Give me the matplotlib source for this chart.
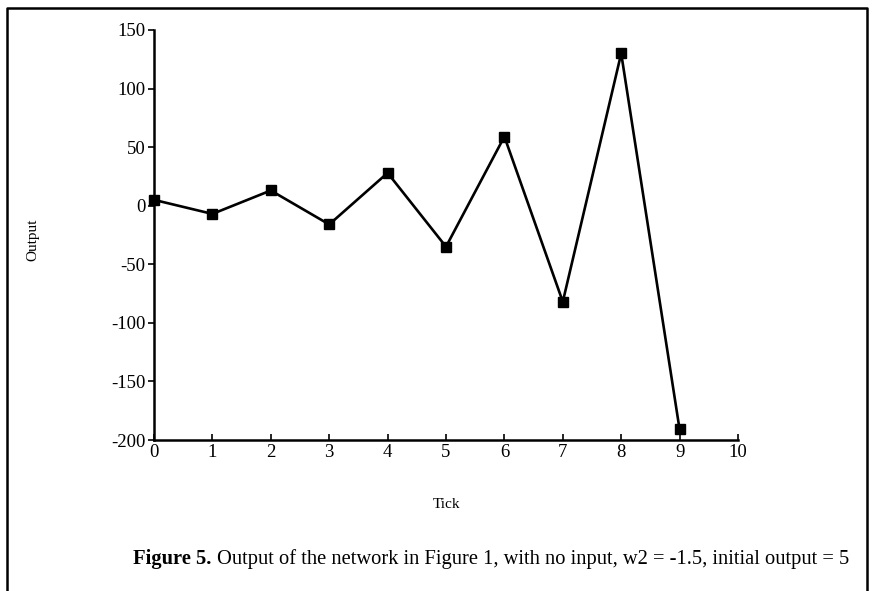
import matplotlib
matplotlib.use("Agg")
import matplotlib.pyplot as plt
from matplotlib.lines import Line2D

ticks = [0, 1, 2, 3, 4, 5, 6, 7, 8, 9]
output = [5, -7, 13, -16, 28, -35, 59, -82, 130, -191]
xticks = [0, 1, 2, 3, 4, 5, 6, 7, 8, 9, 10]
yticks = [-200, -150, -100, -50, 0, 50, 100, 150]

plt.rcParams['font.family'] = ['Liberation Serif', 'DejaVu Serif']
plt.rcParams['axes.unicode_minus'] = False

W, H = 872, 591
fig = plt.figure(figsize=(W / 100, H / 100), dpi=100)
fig.patch.set_facecolor('white')

ax = fig.add_axes([154 / W, 1 - 440 / H, (738 - 154) / W, (440 - 30) / H])
ax.plot(ticks, output, color='black', lw=1.9, marker='s', markersize=7.5,
        markerfacecolor='black', markeredgecolor='black', clip_on=False)
ax.set_xlim(0, 10)
ax.set_ylim(-200, 150)
ax.set_xticks(xticks)
ax.set_yticks(yticks)
ax.tick_params(axis='y', direction='out', length=4, width=1.2, labelsize=13.5, pad=2)
ax.tick_params(axis='x', direction='in', length=4, width=1.2, labelsize=13.5, pad=3)
for s in ['top', 'right']:
    ax.spines[s].set_visible(False)
for s in ['left', 'bottom']:
    ax.spines[s].set_linewidth(1.8)

fig.text(33 / W, 1 - 240 / H, 'Output', rotation=90, ha='center', va='center', fontsize=11)
fig.text(447 / W, 1 - 505 / H, 'Tick', ha='center', va='center', fontsize=11)

t1 = fig.text(133 / W, 1 - 559 / H, 'Figure 5.', ha='left', va='center',
              fontsize=14.8, fontweight='bold')
ax.annotate('Output of the network in Figure 1, with no input, w2 = -1.5, initial output = 5',
            xy=(1, 0.5), xycoords=t1, xytext=(4, 0), textcoords='offset points',
            ha='left', va='center', fontsize=14.8, annotation_clip=False)

# outer frame (top, left, right; bottom is cut off)
x0, x1 = 7 / W, 867 / W
y0 = 1 - 8 / H
fig.add_artist(Line2D([x0, x0, x1, x1], [0, y0, y0, 0], color='black', lw=1.8,
                      transform=fig.transFigure))

fig.savefig('out.png', dpi=100)
